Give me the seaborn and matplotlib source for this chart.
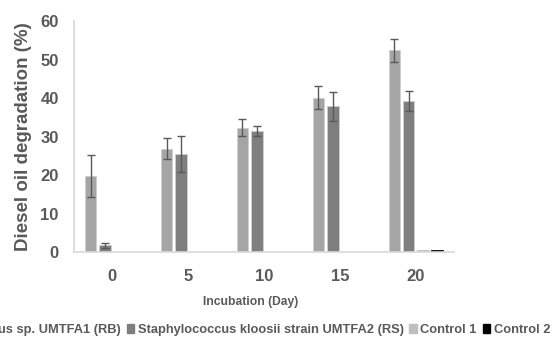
import numpy as np
import pandas as pd
import seaborn as sns
import matplotlib.pyplot as plt
from matplotlib.patches import Patch

days = ["0", "5", "10", "15", "20"]
series = ["Bacillus sp. UMTFA1 (RB)", "Staphylococcus kloosii strain UMTFA2 (RS)",
          "Control 1", "Control 2"]
rb_mean = [19.8, 26.9, 32.4, 40.2, 52.5]
rb_err = [5.5, 2.7, 2.1, 2.9, 3.0]
rs_mean = [1.7, 25.5, 31.5, 37.9, 39.3]
rs_err = [0.6, 4.8, 1.4, 3.8, 2.6]
ctrl1 = [np.nan, np.nan, np.nan, np.nan, 0.4]
ctrl2 = [np.nan, np.nan, np.nan, np.nan, 0.5]
colors = ["#a5a5a5", "#7f7f7f", "#bfbfbf", "#000000"]

df = pd.DataFrame({
    "day": days * 4,
    "series": np.repeat(series, len(days)),
    "value": rb_mean + rs_mean + ctrl1 + ctrl2,
})

sns.set_style("white")
plt.rcParams["font.family"] = ["Liberation Sans", "DejaVu Sans"]
plt.rcParams["font.weight"] = "bold"

fig = plt.figure(figsize=(5.52, 3.52), dpi=100)
ax = fig.add_axes([0.134, 0.284, 0.688, 0.655])
sns.barplot(data=df, x="day", y="value", hue="series", order=days,
            hue_order=series, palette=colors, width=0.75, gap=0.18,
            edgecolor="#cfcfcf", linewidth=0.6, errorbar=None, legend=False, ax=ax)
# control bars are tiny, draw them without the light edge
for cont in ax.containers[2:]:
    for p in cont:
        p.set_edgecolor(p.get_facecolor())

# error bars for the two isolates, placed on the drawn bars
for cont, errs in zip(ax.containers[:2], [rb_err, rs_err]):
    xs = [p.get_x() + p.get_width() / 2 for p in cont]
    hs = [p.get_height() for p in cont]
    ax.errorbar(xs, hs, yerr=errs, fmt="none", ecolor="#595959",
                elinewidth=1.0, capsize=3, capthick=1.0)

ax.set_xlim(-0.5, 4.5)
ax.set_ylim(0, 60)
ax.set_yticks(range(0, 61, 10))
ax.tick_params(axis="y", length=0, labelsize=12, labelcolor="#595959", pad=11)
ax.tick_params(axis="x", length=0, labelsize=12, labelcolor="#595959", pad=12)
for lab in ax.get_xticklabels() + ax.get_yticklabels():
    lab.set_fontweight("bold")
ax.set_ylabel("Diesel oil degradation (%)", fontsize=13.5, fontweight="bold",
              color="#595959", labelpad=6)
ax.set_xlabel("Incubation (Day)", fontsize=8.7, fontweight="bold", color="#595959")
ax.xaxis.set_label_coords(0.466, -0.192)
for s in ["top", "right"]:
    ax.spines[s].set_visible(False)
for s in ["left", "bottom"]:
    ax.spines[s].set_color("#d9d9d9")
    ax.spines[s].set_linewidth(1.2)

handles = [Patch(facecolor=c, edgecolor=c) for c in colors]
fig.legend(handles, series, ncol=4, loc="center right",
           bbox_to_anchor=(550 / 552, 1 - 330 / 352), frameon=False,
           borderpad=0, borderaxespad=0,
           handlelength=0.6, handleheight=0.6, handletextpad=0.25,
           columnspacing=0.45, labelcolor="#595959", prop={"weight": "bold", "size": 9.3})

fig.savefig("out.png", dpi=100)
